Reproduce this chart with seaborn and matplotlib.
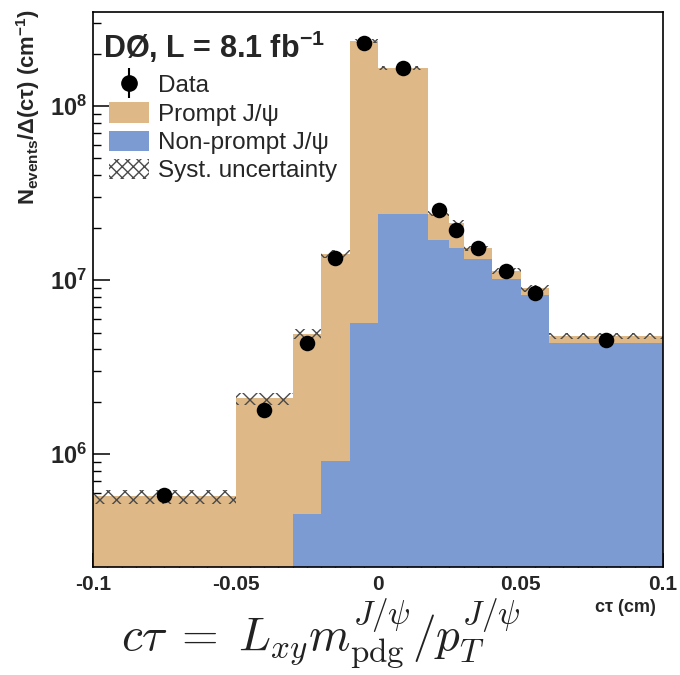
import numpy as np
import pandas as pd
import matplotlib
matplotlib.use("Agg")
import matplotlib.pyplot as plt
import matplotlib.ticker as mticker
from matplotlib.lines import Line2D
from matplotlib.patches import Patch
import seaborn as sns

# ---------------- data ----------------
bin_edges = [-0.1, -0.05, -0.03, -0.02, -0.01, 0.0, 0.0175, 0.025, 0.03, 0.04, 0.05, 0.06, 0.1]
nonprompt = [0.0, 0.0, 4.56e5, 9.14e5, 5.64e6, 2.41e7, 1.71e7, 1.53e7, 1.32e7, 1.01e7, 8.20e6, 4.38e6]
prompt = [5.72e5, 2.09e6, 4.44e6, 1.33e7, 2.31e8, 1.41e8, 0.70e7, 0.60e7, 0.20e7, 0.12e7, 0.76e6, 0.39e6]
data_vals = [5.8e5, 1.79e6, 4.33e6, 1.34e7, 2.31e8, 1.65e8, 2.52e7, 1.95e7, 1.53e7, 1.13e7, 8.45e6, 4.52e6]
syst_rel = [0.095, 0.078, 0.068, 0.054, 0.027, 0.027, 0.035, 0.035, 0.035, 0.035, 0.04, 0.04]
x_ticks = [-0.1, -0.05, 0.0, 0.05, 0.1]
legend_labels = ["Data", "Prompt J/\u03c8", "Non-prompt J/\u03c8", "Syst. uncertainty"]

TAN = "#deb887"
BLUE = "#7b9bd2"

sns.set_style("white")
plt.rcParams["font.family"] = ["Liberation Sans", "DejaVu Sans"]
plt.rcParams["mathtext.fontset"] = "custom"
plt.rcParams["mathtext.rm"] = "Liberation Sans"
plt.rcParams["mathtext.bf"] = "Liberation Sans:bold"
plt.rcParams["mathtext.it"] = "Liberation Sans:italic"
plt.rcParams["hatch.color"] = "#4a4a4a"
plt.rcParams["hatch.linewidth"] = 1.0

edges = np.array(bin_edges)
centers = 0.5 * (edges[:-1] + edges[1:])
widths = np.diff(edges)
total = np.array(prompt) + np.array(nonprompt)
df = pd.DataFrame({"ct": centers, "total": total, "nonprompt": nonprompt, "data": data_vals})

fig = plt.figure(figsize=(6.8, 6.75), dpi=100)
ax = fig.add_axes([93 / 680, 1 - 567 / 675, 570 / 680, 555 / 675])

# stacked histogram: total (prompt on top) then non-prompt
sns.histplot(data=df, x="ct", weights="total", bins=list(bin_edges), color=TAN, alpha=1,
             linewidth=0, edgecolor="none", ax=ax)
sns.histplot(data=df, x="ct", weights="nonprompt", bins=list(bin_edges), color=BLUE, alpha=1,
             linewidth=0, edgecolor="none", ax=ax)

# systematic band
err = total * np.array(syst_rel)
ax.bar(edges[:-1], 2 * err, bottom=total - err, width=widths, align="edge",
       fill=False, hatch="xx", linewidth=0, edgecolor="#4a4a4a", zorder=3)

# data points
sns.scatterplot(data=df, x="ct", y="data", color="black", s=125, linewidth=0,
                ax=ax, zorder=5)

ax.set_yscale("log")
ax.set_xlim(-0.1, 0.1)
ax.set_ylim(2.25e5, 3.47e8)
ax.set_xlabel("")
ax.set_ylabel("")

ax.xaxis.set_major_locator(mticker.FixedLocator(x_ticks))
ax.xaxis.set_minor_locator(mticker.MultipleLocator(0.005))
ax.xaxis.set_major_formatter(mticker.FuncFormatter(lambda v, p: "0" if abs(v) < 1e-9 else f"{v:g}"))
ax.yaxis.set_major_locator(mticker.LogLocator(base=10))
ax.yaxis.set_minor_locator(mticker.LogLocator(base=10, subs=np.arange(2, 10)))
ax.yaxis.set_minor_formatter(mticker.NullFormatter())
ax.yaxis.set_major_formatter(mticker.FuncFormatter(
    lambda v, p: r"$\mathbf{10^{%d}}$" % int(round(np.log10(v)))))

ax.tick_params(axis="both", which="both", direction="in", top=False, right=False,
               left=True, bottom=True, color="black")
ax.tick_params(axis="x", which="major", length=10, width=1.1, pad=6, labelsize=15)
ax.tick_params(axis="x", which="minor", length=4.5, width=1.0)
ax.tick_params(axis="y", which="major", length=12, width=1.1, pad=4.5, labelsize=17)
ax.tick_params(axis="y", which="minor", length=6, width=1.0)
for lab in ax.get_xticklabels():
    lab.set_fontweight("bold")
for s in ax.spines.values():
    s.set_color("black")
    s.set_linewidth(1.2)
    s.set_zorder(6)

# title text
ax.text(10 / 570, (567 - 58) / 555, r"DØ, L = 8.1 fb$^{\mathbf{-1}}$", transform=ax.transAxes,
        fontsize=22, fontweight="bold", ha="left", va="baseline", zorder=7)

# legend
h_data = (Line2D([], [], marker="|", markersize=22, mew=1.5, color="black", linestyle="none"),
          Line2D([], [], marker="o", markersize=11, color="black", linestyle="none"))
h_prompt = Patch(facecolor=TAN, edgecolor="none")
h_nonp = Patch(facecolor=BLUE, edgecolor="none")
h_syst = Patch(facecolor="white", edgecolor="#4a4a4a", hatch="xxx", linewidth=0)
leg = ax.legend([h_data, h_prompt, h_nonp, h_syst], legend_labels,
                loc="upper left", bbox_to_anchor=(16 / 570, (567 - 74) / 555),
                frameon=False, fontsize=17.5, borderpad=0, borderaxespad=0,
                handlelength=1.65, handleheight=0.9, handletextpad=0.35,
                labelspacing=0.2)
leg.set_zorder(7)

# axis labels
fig.text(28.5 / 680, 1 - 9 / 675,
         r"N$_{\mathbf{events}}$/Δ(cτ) (cm$^{\mathbf{-1}}$)",
         rotation=90, ha="center", va="top", fontsize=15.8, fontweight="bold")
fig.text(656 / 680, 1 - 607 / 675, "cτ (cm)", ha="right", va="center",
         fontsize=13, fontweight="bold")

# formula
fig.text(321 / 680, 1 - 634 / 675,
         r"$c\tau\;=\;L_{xy}m_{\rm pdg}^{J/\psi}/p_T^{J/\psi}$",
         ha="center", va="center", fontsize=34, color="#222222",
         math_fontfamily="cm")

fig.savefig("out.png", dpi=100)
